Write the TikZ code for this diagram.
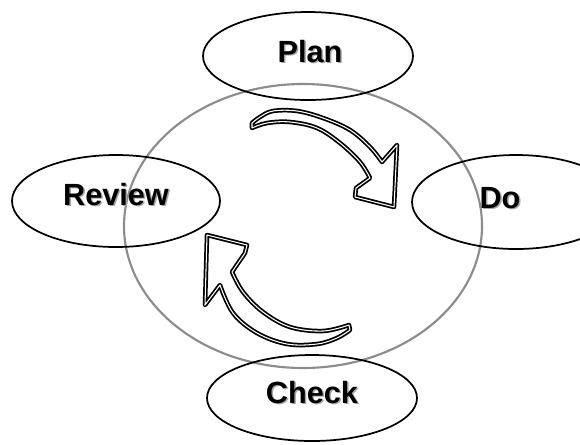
\documentclass[tikz,border=0pt]{standalone}
\usepackage{fontspec}
\setmainfont{Liberation Sans}
\begin{document}
\begin{tikzpicture}[x=0.75pt,y=-0.75pt,
  oval/.style={draw=black,line width=1.3pt},
  ring/.style={draw=black!45,line width=1.6pt},
  lbl/.style={font=\fontsize{23}{26}\selectfont\bfseries,anchor=base,inner sep=0pt},
  shadow/.style={lbl,text=black!35},
  blockarrow/.style={draw=black,line width=1.3pt,double=white,double distance=0.8pt,line join=round,fill=white}]
\clip (0,0) rectangle (580,444);
\fill[white] (0,0) rectangle (580,444);
% big grey ring
\draw[ring] (303,226) ellipse (179 and 142);
% ovals
\draw[oval] (308,56) ellipse (105 and 44);
\draw[oval] (116,201) ellipse (104 and 46);
\draw[oval] (516,202) ellipse (104 and 47);
\draw[oval] (312,398) ellipse (105 and 43);
% labels with shadow
\node[shadow] at (311.5,63.5) {Plan};
\node[lbl] (plan) at (310,62) {Plan};
\node[shadow] at (117.5,206.5) {Review};
\node[lbl] (review) at (116,205) {Review};
\node[shadow] at (501.5,209.5) {Do};
\node[lbl] (do) at (500,208) {Do};
\node[shadow] at (313.5,404.5) {Check};
\node[lbl] (check) at (312,403) {Check};
% upper arrow (Plan -> Do)
\draw[blockarrow] (252,128)
  -- plot[smooth,tension=0.6] coordinates {(252,128) (267,123) (290,122) (317,128) (340,143) (360,162) (370,178)}
  -- (356,188) -- (355,197) -- (394,207) -- (397,145) -- (382,162)
  -- plot[smooth,tension=0.6] coordinates {(382,162) (370,147) (350,130) (323,118) (297,111) (273,111) (260,117) (252,123)}
  -- cycle;
% lower arrow (Check -> Review)
\draw[blockarrow] (350,330)
  -- plot[smooth,tension=0.6] coordinates {(350,330) (337,338) (317,344) (287,344) (257,333) (233,313) (220,285)}
  -- (205,305) -- (207,235) -- (247,245) -- (245,253) -- (232,272)
  -- plot[smooth,tension=0.6] coordinates {(232,272) (243,292) (263,312) (290,327) (323,331) (349,325)}
  -- cycle;
\end{tikzpicture}
\end{document}
